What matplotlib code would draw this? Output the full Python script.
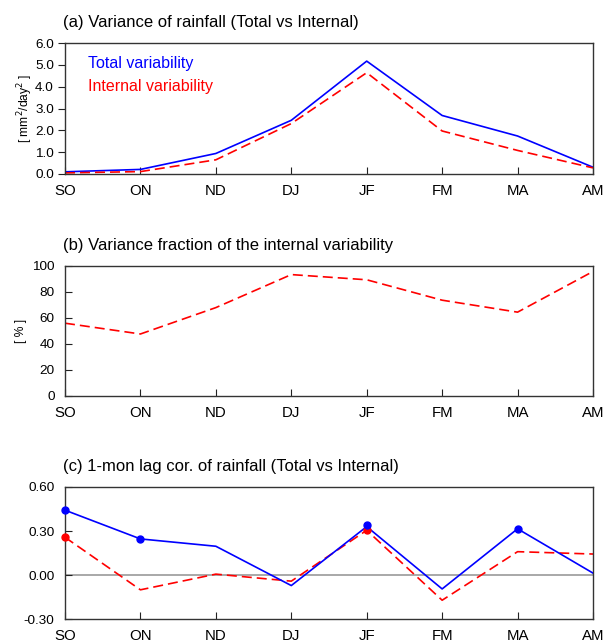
import numpy as np
import matplotlib
matplotlib.use("Agg")
import matplotlib.pyplot as plt

plt.rcParams['font.family'] = ['Liberation Sans', 'DejaVu Sans']

seasons = ["SO", "ON", "ND", "DJ", "JF", "FM", "MA", "AM"]

# (a) variance of rainfall
var_total = [0.10, 0.21, 0.94, 2.46, 5.17, 2.68, 1.74, 0.31]
var_internal = [0.05, 0.11, 0.65, 2.31, 4.64, 1.97, 1.08, 0.28]

# (b) variance fraction of internal variability [%]
frac_internal = [56, 47.7, 68, 93.4, 89.4, 73.7, 64.5, 95.8]

# (c) 1-month lag correlation
cor_total = [0.442, 0.246, 0.196, -0.072, 0.33, -0.095, 0.315, 0.013]
cor_internal = [0.257, -0.101, 0.006, -0.042, 0.305, -0.172, 0.159, 0.143]
sig_total = [0, 1, 4, 6]      # indices with dots (total)
sig_total_val = [0.442, 0.246, 0.344, 0.315]
sig_internal = [0, 4]
sig_internal_val = [0.257, 0.305]

x = np.arange(len(seasons))
W, H = 606, 643
fig = plt.figure(figsize=(W / 100, H / 100), dpi=100)

def make_ax(top, bottom):
    return fig.add_axes([65 / W, 1 - bottom / H, (593 - 65) / W, (bottom - top) / H])

def style(ax, title, ytick_out=False):
    ax.set_xlim(0, len(seasons) - 1)
    ax.set_xticks(x)
    ax.set_xticklabels(seasons, fontsize=10.8)
    ax.tick_params(axis='x', direction='in', length=5, width=0.8, pad=7, colors='#222222',
                   labelcolor='black')
    if ytick_out:
        ax.tick_params(axis='y', direction='out', length=5, width=0.8, labelsize=9.7, pad=3,
                       colors='#222222', labelcolor='black')
    else:
        ax.tick_params(axis='y', direction='in', length=5, width=0.8, labelsize=9.7, pad=7.5,
                       colors='#222222', labelcolor='black')
    for s in ax.spines.values():
        s.set_linewidth(1.0)
        s.set_color('#333333')
    ax.annotate(title, xy=(0, 1), xycoords='axes fraction', xytext=(-1.5, 11.5),
                textcoords='offset points', fontsize=12, ha='left', va='baseline')

# panel (a)
ax1 = make_ax(43, 174)
ax1.plot(x, var_total, color='#0000ff', lw=1.2)
ax1.plot(x, var_internal, color='#ff0000', lw=1.2, ls=(0, (6, 3)))
ax1.set_ylim(0, 6)
ax1.set_yticks(np.arange(0, 6.1, 1.0))
ax1.set_yticklabels([f"{v:.1f}" for v in np.arange(0, 6.1, 1.0)])
ax1.set_ylabel(r"[ mm$^2$/day$^2$ ]", fontsize=8.7, labelpad=0)
style(ax1, "(a) Variance of rainfall (Total vs Internal)", ytick_out=True)
ax1.text(0.044, 0.84, "Total variability", color='#0000ff', fontsize=11.5,
         transform=ax1.transAxes, va='center')
ax1.text(0.044, 0.67, "Internal variability", color='#ff0000', fontsize=11.5,
         transform=ax1.transAxes, va='center')

# panel (b)
ax2 = make_ax(266, 396)
ax2.plot(x, frac_internal, color='#ff0000', lw=1.2, ls=(0, (6, 3)))
ax2.set_ylim(0, 100)
ax2.set_yticks(np.arange(0, 101, 20))
ax2.set_ylabel("[ % ]", fontsize=8.7, labelpad=4)
style(ax2, "(b) Variance fraction of the internal variability")

# panel (c)
ax3 = make_ax(487, 619)
ax3.axhline(0, color='#999999', lw=1.2, zorder=1)
ax3.plot(x, cor_total, color='#0000ff', lw=1.2, zorder=3)
ax3.plot(x, cor_internal, color='#ff0000', lw=1.2, ls=(0, (6, 3)), zorder=2)
ax3.plot(sig_internal, sig_internal_val, 'o', color='#ff0000', ms=5, zorder=4, clip_on=False)
ax3.plot(sig_total, sig_total_val, 'o', color='#0000ff', ms=5, zorder=5, clip_on=False)
ax3.set_ylim(-0.3, 0.6)
ax3.set_yticks([-0.3, 0.0, 0.3, 0.6])
ax3.set_yticklabels(["-0.30", "0.00", "0.30", "0.60"])
style(ax3, "(c) 1-mon lag cor. of rainfall (Total vs Internal)")

fig.savefig("out.png", dpi=100)
